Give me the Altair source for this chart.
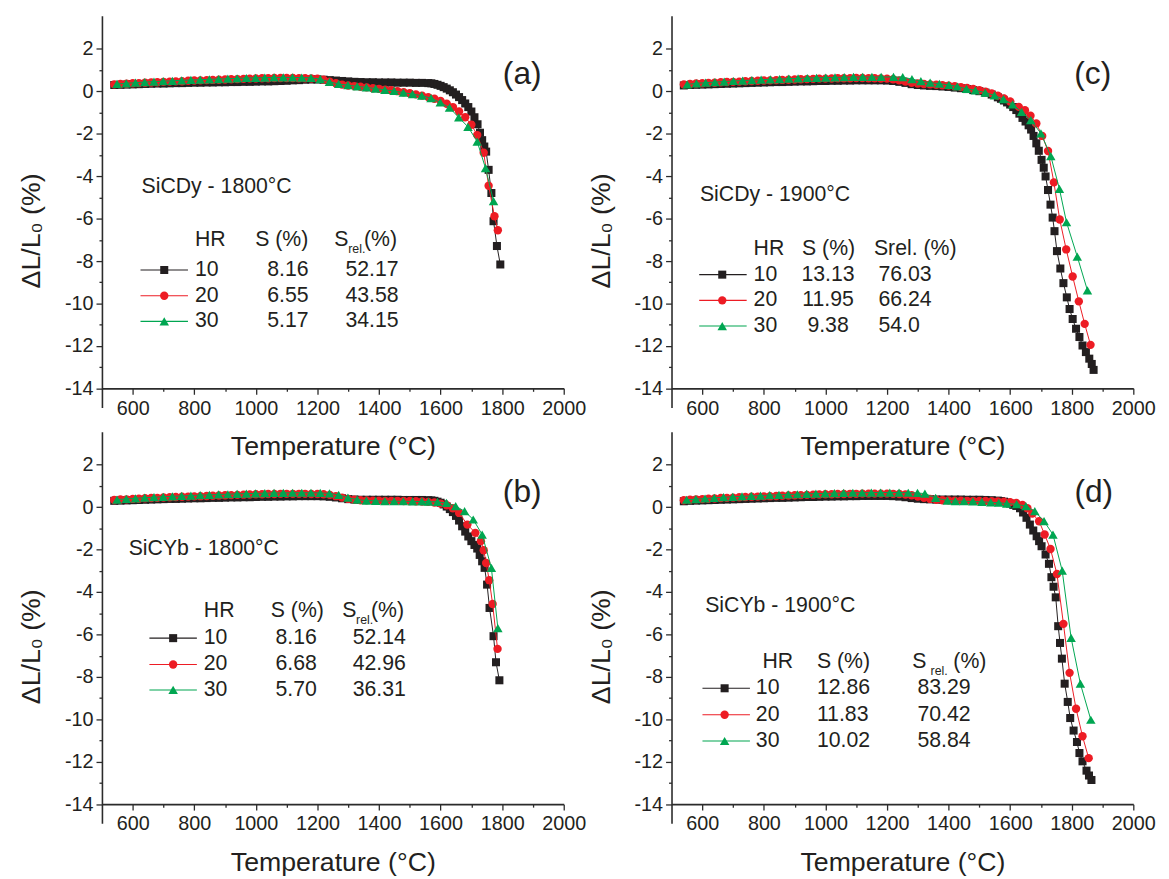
import altair as alt
import pandas as pd

FONT = "Liberation Sans"
INK = "#231f20"
C_K = "#231f20"
C_R = "#ed1c24"
C_G = "#00a651"

# ---------------- data (T in °C, dL/L0 in %) ----------------
A_K = [(540,.30),(560,.31),(580,.32),(600,.33),(620,.34),(640,.35),(660,.36),(680,.37),(700,.37),(720,.38),
       (740,.39),(760,.39),(780,.40),(800,.41),(820,.41),(840,.42),(860,.42),(880,.43),(900,.43),(920,.44),
       (940,.44),(960,.45),(980,.45),(1000,.46),(1020,.47),(1040,.47),(1060,.48),(1080,.49),(1100,.50),(1120,.52),
       (1140,.53),(1160,.55),(1180,.56),(1200,.56),(1220,.55),(1240,.53),(1260,.51),(1280,.49),(1300,.47),(1320,.45),
       (1340,.44),(1360,.43),(1380,.43),(1400,.42),(1420,.42),(1440,.42),(1460,.41),(1480,.41),(1500,.41),(1520,.40),
       (1540,.40),(1560,.39),(1570,.38),(1580,.35),(1590,.31),(1600,.26),(1610,.20),(1620,.13),(1630,.05),(1640,-.04),
       (1650,-.15),(1660,-.27),(1670,-.41),(1680,-.57),(1690,-.74),(1700,-.95),(1710,-1.22),(1720,-1.55),(1728,-1.95),
       (1735,-2.30),(1742,-2.60),(1748,-2.84),(1756,-3.70),(1765,-4.79),(1772,-6.12),(1783,-7.29),(1794,-8.16)]
A_R = [(540,.33),(560,.35),(580,.36),(600,.38),(620,.39),(640,.41),(660,.42),(680,.43),(700,.45),(720,.46),
       (740,.47),(760,.48),(780,.50),(800,.51),(820,.52),(840,.53),(860,.54),(880,.55),(900,.56),(920,.57),
       (940,.58),(960,.59),(980,.60),(1000,.61),(1020,.62),(1040,.62),(1060,.63),(1080,.63),(1100,.63),(1120,.63),
       (1140,.62),(1160,.62),(1180,.61),(1200,.60),(1220,.55),(1240,.46),(1260,.38),(1280,.32),(1300,.28),(1320,.25),
       (1340,.22),(1360,.19),(1380,.15),(1400,.12),(1420,.08),(1440,.05),(1460,.01),(1480,-.04),(1500,-.09),(1520,-.14),
       (1540,-.20),(1560,-.27),(1580,-.35),(1600,-.45),(1620,-.58),(1640,-.74),(1660,-.95),(1680,-1.22),(1700,-1.57),
       (1719,-2.06),(1740,-2.89),(1756,-4.45),(1775,-5.89),(1786,-6.55)]
A_G = [(549,.35),(579,.38),(609,.41),(639,.44),(669,.46),(699,.48),(729,.50),(759,.52),(789,.54),(819,.55),
       (849,.57),(879,.58),(909,.60),(939,.61),(969,.63),(999,.64),(1029,.65),(1059,.66),(1089,.66),(1119,.66),
       (1149,.65),(1179,.64),(1209,.58),(1239,.45),(1269,.35),(1299,.29),(1329,.24),(1359,.19),(1389,.13),(1419,.07),
       (1449,.02),(1479,-.06),(1509,-.13),(1539,-.20),(1569,-.32),(1599,-.52),(1629,-.77),(1659,-1.23),(1689,-1.67),
       (1719,-2.37),(1746,-3.62),(1772,-5.17)]

B_K = [(540,.30),(560,.31),(580,.32),(600,.33),(620,.34),(640,.35),(660,.36),(680,.37),(700,.38),(720,.39),
       (740,.39),(760,.40),(780,.41),(800,.42),(820,.42),(840,.43),(860,.44),(880,.44),(900,.45),(920,.46),
       (940,.46),(960,.47),(980,.47),(1000,.48),(1020,.49),(1040,.49),(1060,.50),(1080,.50),(1100,.51),(1120,.51),
       (1140,.52),(1160,.52),(1180,.52),(1200,.52),(1220,.51),(1240,.49),(1260,.46),(1280,.42),(1300,.38),(1320,.36),
       (1340,.35),(1360,.35),(1380,.35),(1400,.35),(1420,.35),(1440,.35),(1460,.35),(1480,.34),(1500,.34),(1520,.34),
       (1540,.34),(1560,.33),(1570,.32),(1580,.30),(1590,.26),(1600,.21),(1610,.13),(1620,.03),(1630,-.09),(1640,-.23),
       (1650,-.41),(1660,-.63),(1670,-.90),(1680,-1.15),(1690,-1.38),(1700,-1.60),(1710,-1.78),(1719,-1.95),(1727,-2.25),
       (1735,-2.55),(1743,-2.86),(1751,-3.65),(1759,-4.75),(1772,-6.08),(1780,-7.31),(1791,-8.16)]
B_R = [(540,.34),(560,.36),(580,.37),(600,.39),(620,.40),(640,.42),(660,.43),(680,.44),(700,.46),(720,.47),
       (740,.48),(760,.49),(780,.50),(800,.51),(820,.52),(840,.53),(860,.54),(880,.55),(900,.56),(920,.57),
       (940,.58),(960,.59),(980,.60),(1000,.61),(1020,.61),(1040,.62),(1060,.62),(1080,.63),(1100,.63),(1120,.63),
       (1140,.63),(1160,.63),(1180,.62),(1200,.62),(1220,.61),(1240,.58),(1260,.52),(1280,.45),(1300,.39),(1320,.35),
       (1340,.33),(1360,.32),(1380,.31),(1400,.31),(1420,.30),(1440,.30),(1460,.30),(1480,.29),(1500,.29),(1520,.28),
       (1540,.27),(1560,.25),(1580,.22),(1600,.17),(1620,.09),(1640,-.05),(1660,-.27),(1687,-.82),(1713,-1.21),
       (1731,-1.60),(1740,-2.03),(1748,-2.63),(1758,-3.44),(1769,-4.56),(1785,-6.68)]
B_G = [(549,.36),(579,.39),(609,.42),(639,.45),(669,.47),(699,.49),(729,.51),(759,.53),(789,.55),(819,.57),
       (849,.58),(879,.60),(909,.61),(939,.63),(969,.64),(999,.65),(1029,.66),(1059,.67),(1089,.67),(1119,.68),
       (1149,.68),(1179,.68),(1209,.67),(1239,.65),(1269,.58),(1299,.45),(1329,.36),(1359,.31),(1389,.30),(1419,.29),
       (1449,.28),(1479,.28),(1509,.27),(1539,.27),(1561,.26),(1590,.25),(1619,.20),(1649,.05),(1678,-.19),(1706,-.58),
       (1735,-1.29),(1765,-2.86),(1786,-5.70)]

C_Kd = [(540,.28),(560,.30),(580,.31),(600,.32),(620,.33),(640,.34),(660,.35),(680,.36),(700,.37),(720,.38),
        (740,.39),(760,.40),(780,.41),(800,.42),(820,.43),(840,.44),(860,.44),(880,.45),(900,.46),(920,.47),
        (940,.47),(960,.48),(980,.49),(1000,.49),(1020,.50),(1040,.50),(1060,.51),(1080,.51),(1100,.52),(1120,.52),
        (1140,.52),(1160,.52),(1180,.52),(1200,.51),(1220,.49),(1240,.45),(1260,.40),(1280,.34),(1300,.30),(1320,.28),
        (1340,.26),(1360,.25),(1380,.23),(1400,.21),(1420,.18),(1440,.15),(1460,.11),(1480,.06),(1500,.01),(1520,-.06),
        (1540,-.15),(1560,-.28),(1570,-.35),(1580,-.43),(1590,-.52),(1600,-.62),(1610,-.74),(1620,-.88),(1630,-1.05),
        (1640,-1.25),(1650,-1.42),(1660,-1.60),(1668,-1.80),(1676,-2.10),(1685,-2.45),(1693,-2.80),(1702,-3.23),
        (1709,-3.60),(1715,-4.01),(1723,-4.65),(1731,-5.34),(1738,-5.95),(1744,-6.59),(1752,-7.53),(1763,-8.35),
        (1773,-9.04),(1784,-9.71),(1793,-10.26),(1803,-10.73),(1814,-11.19),(1825,-11.58),(1835,-11.98),(1846,-12.29),
        (1857,-12.60),(1865,-12.85),(1871,-13.13)]
C_Rd = [(540,.33),(560,.35),(580,.37),(600,.38),(620,.40),(640,.41),(660,.43),(680,.44),(700,.45),(720,.46),
        (740,.48),(760,.49),(780,.50),(800,.51),(820,.52),(840,.53),(860,.54),(880,.55),(900,.56),(920,.57),
        (940,.58),(960,.59),(980,.60),(1000,.60),(1020,.61),(1040,.62),(1060,.62),(1080,.62),(1100,.63),(1120,.63),
        (1140,.62),(1160,.62),(1180,.61),(1200,.60),(1220,.57),(1240,.52),(1260,.46),(1280,.41),(1300,.37),(1320,.35),
        (1340,.33),(1360,.31),(1380,.29),(1400,.27),(1420,.24),(1440,.20),(1460,.16),(1480,.11),(1500,.05),(1520,-.02),
        (1540,-.10),(1560,-.20),(1580,-.33),(1600,-.48),(1628,-.73),(1648,-.89),(1666,-1.15),(1685,-1.51),(1704,-2.10),
        (1723,-2.81),(1742,-4.29),(1761,-6.04),(1782,-7.45),(1803,-8.73),(1823,-9.90),(1842,-10.96),(1861,-11.95)]
C_Gd = [(551,.33),(581,.38),(611,.41),(641,.44),(671,.46),(701,.49),(731,.51),(761,.53),(791,.55),(821,.57),
        (851,.58),(881,.60),(911,.61),(941,.63),(971,.64),(1001,.65),(1031,.66),(1061,.67),(1091,.68),(1121,.68),
        (1151,.68),(1181,.68),(1221,.68),(1251,.67),(1281,.58),(1310,.48),(1340,.41),(1370,.36),(1401,.31),(1428,.23),
        (1458,.12),(1487,.05),(1519,-.06),(1549,-.19),(1578,-.37),(1608,-.61),(1637,-.97),(1667,-1.36),(1700,-1.98),
        (1732,-3.05),(1760,-4.60),(1783,-6.17),(1818,-7.79),(1851,-9.38)]

D_K = [(540,.28),(560,.30),(580,.31),(600,.32),(620,.33),(640,.34),(660,.35),(680,.36),(700,.37),(720,.38),
       (740,.39),(760,.40),(780,.41),(800,.42),(820,.43),(840,.44),(860,.44),(880,.45),(900,.46),(920,.47),
       (940,.48),(960,.48),(980,.49),(1000,.50),(1020,.50),(1040,.51),(1060,.51),(1080,.52),(1100,.52),(1120,.53),
       (1140,.53),(1160,.53),(1180,.53),(1200,.53),(1220,.52),(1240,.50),(1260,.47),(1280,.43),(1300,.40),(1320,.38),
       (1340,.37),(1360,.36),(1380,.36),(1400,.36),(1420,.36),(1440,.36),(1460,.35),(1480,.35),(1500,.35),(1520,.34),
       (1540,.33),(1560,.31),(1570,.29),(1580,.26),(1590,.22),(1600,.17),(1610,.11),(1620,.06),(1632,-.05),(1642,-.25),
       (1653,-.50),(1664,-.82),(1675,-1.10),(1686,-1.37),(1694,-1.60),(1702,-1.84),(1715,-2.23),(1726,-2.67),
       (1734,-3.30),(1741,-3.75),(1748,-4.25),(1756,-5.61),(1762,-6.40),(1768,-7.14),(1777,-8.32),(1787,-9.18),
       (1795,-9.94),(1806,-10.53),(1817,-11.07),(1825,-11.59),(1835,-11.98),(1848,-12.42),(1856,-12.65),(1864,-12.86)]
D_R = [(540,.33),(560,.35),(580,.37),(600,.38),(620,.40),(640,.41),(660,.43),(680,.44),(700,.45),(720,.47),
       (740,.48),(760,.49),(780,.50),(800,.51),(820,.52),(840,.53),(860,.54),(880,.55),(900,.56),(920,.57),
       (940,.58),(960,.59),(980,.60),(1000,.61),(1020,.61),(1040,.62),(1060,.62),(1080,.63),(1100,.63),(1120,.64),
       (1140,.64),(1160,.64),(1180,.64),(1200,.64),(1220,.63),(1240,.62),(1260,.60),(1280,.56),(1300,.50),(1320,.44),
       (1340,.39),(1360,.35),(1380,.33),(1400,.32),(1420,.31),(1440,.31),(1460,.30),(1480,.30),(1500,.29),(1520,.29),
       (1540,.28),(1560,.27),(1580,.26),(1600,.24),(1620,.20),(1640,.10),(1656,-.05),(1672,-.30),(1694,-.66),
       (1712,-1.29),(1731,-1.97),(1752,-3.15),(1773,-5.50),(1793,-7.81),(1814,-9.50),(1835,-10.80),(1855,-11.83)]
D_G = [(549,.35),(579,.38),(609,.41),(639,.44),(669,.47),(699,.49),(729,.51),(759,.53),(789,.55),(819,.57),
       (849,.58),(879,.60),(909,.61),(939,.63),(969,.64),(999,.65),(1029,.66),(1059,.67),(1089,.68),(1119,.68),
       (1149,.69),(1179,.69),(1209,.69),(1239,.69),(1269,.68),(1299,.67),(1323,.64),(1358,.44),(1396,.31),(1422,.29),
       (1450,.28),(1479,.27),(1508,.25),(1537,.23),(1563,.21),(1589,.17),(1621,.14),(1651,.05),(1680,-.19),(1710,-.66),
       (1739,-1.29),(1769,-2.99),(1798,-6.16),(1828,-8.32),(1862,-10.02)]

HR = ["10", "20", "30"]
S_A, SREL_A = ["8.16", "6.55", "5.17"], ["52.17", "43.58", "34.15"]
S_B, SREL_B = ["8.16", "6.68", "5.70"], ["52.14", "42.96", "36.31"]
S_C, SREL_C = ["13.13", "11.95", "9.38"], ["76.03", "66.24", "54.0"]
S_D, SREL_D = ["12.86", "11.83", "10.02"], ["83.29", "70.42", "58.84"]

X_TICKS = [600, 700, 800, 900, 1000, 1100, 1200, 1300, 1400, 1500, 1600, 1700, 1800, 1900, 2000]
Y_TICKS = [-14, -13, -12, -11, -10, -9, -8, -7, -6, -5, -4, -3, -2, -1, 0, 1, 2]

# ---------------- layout ----------------
W, H = 467, 396
Y_LO, Y_HI = -14.9, 3.56
X_OFF = -(-14 - Y_LO) / (Y_HI - Y_LO) * H

ONE = pd.DataFrame({"k": [0]})

xscale = alt.Scale(domain=[500, 2000], nice=False, zero=False)
yscale = alt.Scale(domain=[Y_LO, Y_HI], nice=False, zero=False)
xaxis = alt.Axis(values=X_TICKS, labelExpr="datum.value % 200 === 0 ? '' + datum.value : ''",
                 tickSize={"condition": {"test": "datum.value % 200 === 0", "value": 6}, "value": 3},
                 labelFlush=False, labelOverlap=False, offset=X_OFF, grid=False,
                 title="Temperature (°C)", titleX=W / 2, titleY=59, titleBaseline="middle",
                 titleAlign="center", labelPadding=4)
yaxis = alt.Axis(values=Y_TICKS, labelExpr="datum.value % 2 === 0 ? '' + datum.value : ''",
                 tickSize={"condition": {"test": "datum.value % 2 === 0", "value": 6}, "value": 3},
                 labelFlush=False, labelOverlap=False, grid=False,
                 title="ΔL/L₀ (%)", titleAngle=270, titleX=-71, titleY=217, titleBaseline="middle",
                 titleAlign="center", labelPadding=3)


def txt(s, x, y, size=21.5, align="left", baseline="middle"):
    return alt.Chart(ONE).mark_text(text=s, fontSize=size, font=FONT, color=INK, align=align,
                                    baseline=baseline).encode(x=alt.value(x), y=alt.value(y))


STYLE = [(C_K, "square", 66), (C_R, "circle", 72), (C_G, "triangle-up", 92)]


def panel(series, letter, title, lay, s_vals, srel_vals, header):
    layers = []
    for pairs, (col, shape, size) in zip(series, STYLE):
        df = pd.DataFrame(pairs, columns=["T", "dl"])
        enc = dict(x=alt.X("T:Q", scale=xscale, axis=xaxis), y=alt.Y("dl:Q", scale=yscale, axis=yaxis))
        layers.append(alt.Chart(df).mark_line(color=col, strokeWidth=1).encode(**enc))
        layers.append(alt.Chart(df).mark_point(shape=shape, filled=True, size=size, color=col,
                                               opacity=1, strokeWidth=0).encode(**enc))
    layers.append(txt(letter, lay["letter"][0], lay["letter"][1], size=32, align="center"))
    layers.append(txt(title, lay["title"][0], lay["title"][1]))
    hy = lay["hy"]
    for item in header:
        s, x, kind = item
        if kind == "sub":
            layers.append(txt(s, x, hy + 13, size=12.5, baseline="alphabetic"))
        else:
            layers.append(txt(s, x, hy))
    lx1, lx2, mx = lay["leg"]
    for i, (col, shape, size) in enumerate(STYLE):
        ry = lay["rows"][i]
        layers.append(alt.Chart(ONE).mark_rule(color=col, strokeWidth=1.1).encode(
            x=alt.value(lx1), x2=alt.value(lx2), y=alt.value(ry)))
        layers.append(alt.Chart(ONE).mark_point(shape=shape, filled=True, size=size, color=col, opacity=1,
                                                strokeWidth=0).encode(x=alt.value(mx), y=alt.value(ry)))
        layers.append(txt(HR[i], lay["hr"], ry))
        layers.append(txt(s_vals[i], lay["c2"][0], ry, align=lay["c2"][1]))
        layers.append(txt(srel_vals[i], lay["c3"][0], ry, align=lay["c3"][1]))
    return alt.layer(*layers).properties(width=W, height=H)


pa = panel([A_K, A_R, A_G], "(a)", "SiCDy - 1800°C",
           dict(letter=(425, 59), title=(40, 173), hy=227, rows=[257, 283, 309], leg=(39, 87, 63),
                hr=94, c2=(209, "right"), c3=(300, "right")),
           S_A, SREL_A, [("HR", 94, "n"), ("S (%)", 155, "n"), ("S", 235, "n"), ("rel.", 249, "sub"), ("(%)", 265, "n")])
pb = panel([B_K, B_R, B_G], "(b)", "SiCYb - 1800°C",
           dict(letter=(425, 61.5), title=(27, 118.5), hy=181, rows=[208.8, 235.5, 261.2], leg=(48, 96, 72),
                hr=103, c2=(217.3, "right"), c3=(307.3, "right")),
           S_B, SREL_B, [("HR", 103, "n"), ("S (%)", 170.7, "n"), ("S", 243, "n"), ("rel.", 257, "sub"), ("(%)", 272, "n")])
pc = panel([C_Kd, C_Rd, C_Gd], "(c)", "SiCDy - 1900°C",
           dict(letter=(426, 59), title=(28.7, 181.7), hy=235.7, rows=[261.7, 287.7, 313.7], leg=(28, 76, 51.3),
                hr=83, c2=(158.3, "center"), c3=(209.3, "left")),
           S_C, SREL_C, [("HR", 83, "n"), ("S (%)", 132, "n"), ("Srel. (%)", 204.7, "n")])
pd_ = panel([D_K, D_R, D_G], "(d)", "SiCYb - 1900°C",
            dict(letter=(427, 61), title=(34, 176.5), hy=232.8, rows=[259.5, 286.2, 312.8], leg=(31.3, 79.3, 53.7),
                 hr=85.3, c2=(147, "left"), c3=(248.7, "left")),
            S_D, SREL_D, [("HR", 92, "n"), ("S (%)", 147, "n"), ("S", 243.5, "n"), ("rel.", 262, "sub"), ("(%)", 285, "n")])

chart = alt.concat(pa, pc, pb, pd_, columns=2, spacing={"row": 24.5, "column": 109}, bounds="flush").properties(
    padding={"left": 10, "top": 3, "right": 5, "bottom": 5}
).configure_view(stroke=None).configure_axis(
    labelFont=FONT, labelFontSize=20, labelColor=INK, titleFont=FONT, titleFontSize=27,
    titleFontWeight="normal", titleColor=INK, domainColor="#2b2b2b", domainWidth=1.6,
    tickColor="#2b2b2b", tickWidth=1.3
)

chart.save("out.html", embed_options={"renderer": "svg", "actions": False})
